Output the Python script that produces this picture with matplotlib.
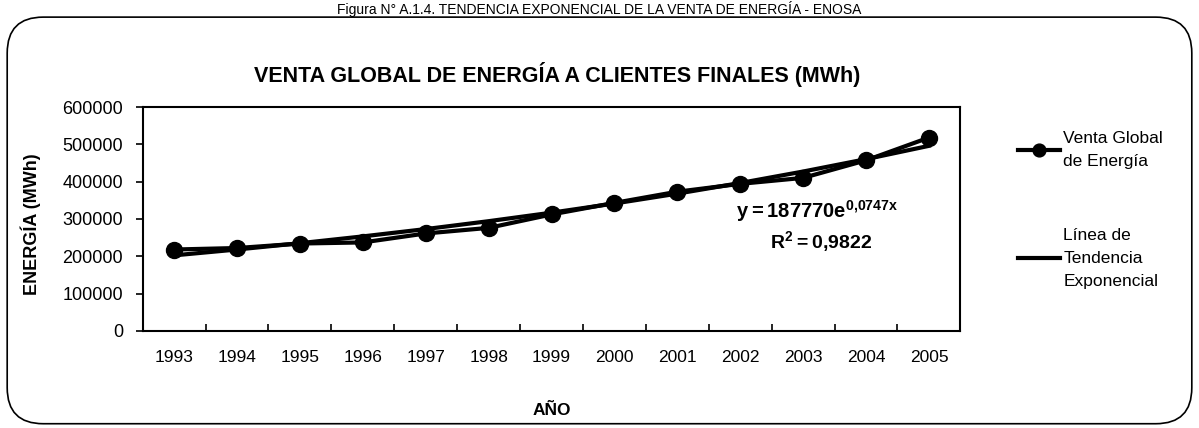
import numpy as np
import matplotlib
matplotlib.use('Agg')
import matplotlib.pyplot as plt
from matplotlib.patches import FancyBboxPatch

plt.rcParams['font.family'] = ['Liberation Sans', 'DejaVu Sans']
plt.rcParams['mathtext.fontset'] = 'custom'
plt.rcParams['mathtext.rm'] = 'Liberation Sans'
plt.rcParams['mathtext.bf'] = 'Liberation Sans:bold'

# --- Datos ---
anios = ['1993', '1994', '1995', '1996', '1997', '1998', '1999',
         '2000', '2001', '2002', '2003', '2004', '2005']
venta_mwh = [218000, 222000, 234000, 237000, 261000, 276000, 312000,
             343000, 373000, 394000, 410000, 457000, 518000]
# coeficientes de la tendencia mostrada en el grafico
trend_a = 187770
trend_b = 0.0747

x = np.arange(1, len(anios) + 1)
tendencia = trend_a * np.exp(trend_b * x)

# --- Figura ---
fig = plt.figure(figsize=(11.99, 4.28), dpi=100)
ax = fig.add_axes([0.119, 0.227, 0.682, 0.523])

caja = FancyBboxPatch((0.006, 0.01), 0.988, 0.95, transform=fig.transFigure,
                      boxstyle='round,pad=0,rounding_size=0.03',
                      facecolor='none', edgecolor='black', lw=1.2,
                      mutation_aspect=1199 / 428)
fig.patches.append(caja)

fig.text(0.5, 0.978, 'Figura N° A.1.4. TENDENCIA EXPONENCIAL DE LA VENTA DE ENERGÍA - ENOSA',
         ha='center', va='center', fontsize=10)
fig.text(0.465, 0.825, 'VENTA GLOBAL DE ENERGÍA A CLIENTES FINALES (MWh)',
         ha='center', va='center', fontsize=15.5, fontweight='bold')

l1, = ax.plot(x, venta_mwh, '-o', color='black', lw=3, markersize=11.5,
              label='Venta Global\nde Energía')
l2, = ax.plot(x, tendencia, '-', color='black', lw=3,
              label='Línea de\nTendencia\nExponencial')

ax.set_xlim(0.5, len(anios) + 0.5)
ax.set_ylim(0, 600000)
ax.set_yticks(np.arange(0, 600001, 100000))
ax.set_yticklabels([str(v) for v in range(0, 600001, 100000)], fontsize=13)
ax.set_xticks(x)
ax.set_xticklabels(anios, fontsize=12.5)
ax.set_xticks(np.arange(1.5, len(anios), 1), minor=True)
ax.tick_params(axis='x', which='major', length=0, pad=14)
ax.tick_params(axis='x', which='minor', direction='in', length=5, width=1.2)
ax.tick_params(axis='y', direction='out', length=5, width=1.2, pad=9)
for s in ax.spines.values():
    s.set_linewidth(1.5)

ax.set_xlabel('AÑO', fontsize=12.5, fontweight='bold', labelpad=27)
fig.text(0.026, 0.477, 'ENERGÍA (MWh)', rotation=90, ha='center', va='center',
         fontsize=13, fontweight='bold')

ax.text(0.825, 0.535, r'$\mathbf{y = 187770e^{0{,}0747x}}$', transform=ax.transAxes,
        ha='center', va='center', fontsize=14.5)
ax.text(0.83, 0.40, r'$\mathbf{R^2 = 0{,}9822}$', transform=ax.transAxes,
        ha='center', va='center', fontsize=14)

leg = fig.legend(handles=[l1, l2], loc='upper left', bbox_to_anchor=(0.836, 0.73),
                 frameon=False, fontsize=12.5, handlelength=2.4, handletextpad=0.2,
                 labelspacing=3.4, markerscale=0.8)
for t in leg.get_texts():
    t.set_linespacing(1.65)

fig.savefig('out.png', dpi=100)
